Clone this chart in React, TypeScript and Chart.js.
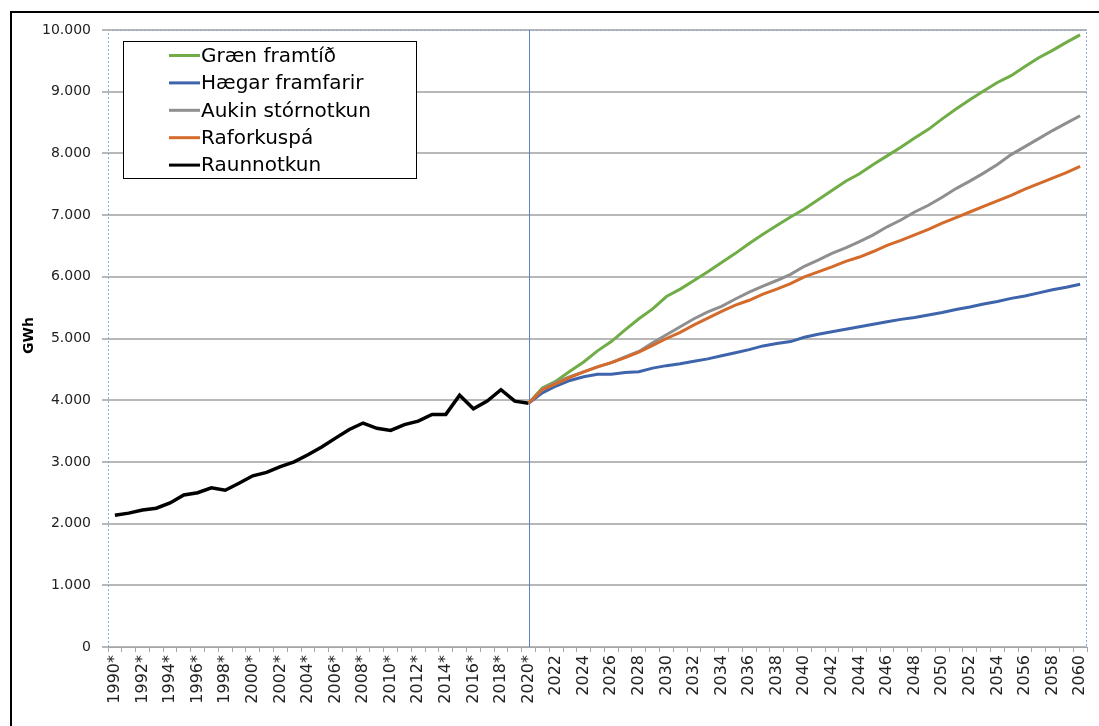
import React, { useEffect, useRef } from "react";
import { Chart, registerables } from "chart.js";

Chart.register(...registerables);

// Categories (years); * marks historical years
const categories: string[] = [
  "1990*", "1991*", "1992*", "1993*", "1994*", "1995*", "1996*", "1997*", "1998*", "1999*",
  "2000*", "2001*", "2002*", "2003*", "2004*", "2005*", "2006*", "2007*", "2008*", "2009*",
  "2010*", "2011*", "2012*", "2013*", "2014*", "2015*", "2016*", "2017*", "2018*", "2019*",
  "2020*", "2021", "2022", "2023", "2024", "2025", "2026", "2027", "2028", "2029",
  "2030", "2031", "2032", "2033", "2034", "2035", "2036", "2037", "2038", "2039",
  "2040", "2041", "2042", "2043", "2044", "2045", "2046", "2047", "2048", "2049",
  "2050", "2051", "2052", "2053", "2054", "2055", "2056", "2057", "2058", "2059", "2060",
];

// Raunnotkun 1990–2020
const raunnotkun: number[] = [
  2135, 2170, 2220, 2250, 2335, 2465, 2500, 2580, 2540, 2655,
  2775, 2830, 2925, 3000, 3115, 3240, 3385, 3525, 3630, 3545,
  3510, 3605, 3660, 3770, 3770, 4080, 3860, 3985, 4170, 3985,
  3950,
];

// Scenarios 2020–2060
const graenFramtid: number[] = [
  3950, 4200, 4310, 4470, 4620, 4800, 4950, 5140, 5320, 5480,
  5680, 5800, 5940, 6080, 6230, 6380, 6540, 6690, 6830, 6970,
  7100, 7250, 7400, 7550, 7670, 7820, 7960, 8100, 8250, 8390,
  8560, 8720, 8870, 9010, 9150, 9260, 9410, 9550, 9670, 9800,
  9920,
];
const haegarFramfarir: number[] = [
  3950, 4120, 4230, 4320, 4380, 4420, 4420, 4450, 4460, 4520,
  4560, 4590, 4630, 4670, 4720, 4770, 4820, 4880, 4920, 4950,
  5020, 5070, 5110, 5150, 5190, 5230, 5270, 5310, 5340, 5380,
  5420, 5470, 5510, 5560, 5600, 5650, 5690, 5740, 5790, 5830,
  5880,
];
const aukinStornotkun: number[] = [
  3950, 4180, 4290, 4380, 4460, 4540, 4610, 4700, 4790, 4930,
  5060, 5190, 5320, 5430, 5520, 5640, 5750, 5850, 5940, 6040,
  6170, 6270, 6380, 6470, 6570, 6680, 6810, 6920, 7050, 7160,
  7290, 7430, 7550, 7680, 7820, 7980, 8110, 8240, 8370, 8490,
  8610,
];
const raforkuspa: number[] = [
  3950, 4170, 4270, 4370, 4460, 4540, 4610, 4690, 4780, 4890,
  5000, 5100, 5220, 5330, 5440, 5540, 5620, 5720, 5800, 5890,
  6000, 6080, 6160, 6250, 6320, 6410, 6510, 6590, 6680, 6770,
  6870, 6960, 7050, 7140, 7230, 7320, 7420, 7510, 7600, 7690,
  7790,
];

const seriesNames = ["Græn framtíð", "Hægar framfarir", "Aukin stórnotkun", "Raforkuspá", "Raunnotkun"];
const seriesColors = ["#70AD47", "#3E64AB", "#8F8F8F", "#D46B2A", "#000000"];
const yTicks = [0, 1000, 2000, 3000, 4000, 5000, 6000, 7000, 8000, 9000, 10000];
const yTitle = "GWh";
const markerLabel = "2020*";

const FONT = "'DejaVu Sans', Verdana, sans-serif";

const fmt = (v: number) => String(v).replace(/\B(?=(\d{3})+(?!\d))/g, ".");

const startIdx = categories.indexOf("2020*");
const pad = (arr: number[]) => [...new Array(startIdx).fill(null), ...arr];
const padEnd = (arr: number[]) => [...arr, ...new Array(categories.length - arr.length).fill(null)];

const decorPlugin = {
  id: "decor",
  beforeDatasetsDraw(chart: any) {
    const { ctx, chartArea: a, scales } = chart;
    ctx.save();
    ctx.strokeStyle = "#8EA9DB";
    ctx.lineWidth = 1;
    ctx.setLineDash([2, 2]);
    ctx.beginPath();
    ctx.moveTo(a.left + 0.5, a.bottom);
    ctx.lineTo(a.left + 0.5, a.top + 0.5);
    ctx.lineTo(a.right - 0.5, a.top + 0.5);
    ctx.lineTo(a.right - 0.5, a.bottom);
    ctx.stroke();
    ctx.setLineDash([]);
    const mi = categories.indexOf(markerLabel);
    const x = Math.round(scales.x.getPixelForValue(mi)) + 0.5;
    ctx.strokeStyle = "#5B80CC";
    ctx.beginPath();
    ctx.moveTo(x, a.top);
    ctx.lineTo(x, a.bottom);
    ctx.stroke();
    ctx.restore();
  },
  afterDraw(chart: any) {
    const { ctx, chartArea: a } = chart;
    ctx.save();
    // y title
    ctx.translate(29, (a.top + a.bottom) / 2 - 3);
    ctx.rotate(-Math.PI / 2);
    ctx.font = `bold 14px ${FONT}`;
    ctx.fillStyle = "#000";
    ctx.textAlign = "center";
    ctx.textBaseline = "middle";
    ctx.fillText(yTitle, 0, 0);
    ctx.restore();

    // legend
    ctx.save();
    const bx = 123.5, by = 41.5, bw = 293, bh = 137;
    ctx.fillStyle = "#fff";
    ctx.fillRect(bx, by, bw, bh);
    ctx.strokeStyle = "#000";
    ctx.lineWidth = 1;
    ctx.strokeRect(bx, by, bw, bh);
    ctx.font = `20px ${FONT}`;
    ctx.textBaseline = "middle";
    ctx.textAlign = "left";
    chart.data.datasets.forEach((ds: any, i: number) => {
      const y = 55.5 + i * 27.4;
      ctx.strokeStyle = ds.borderColor;
      ctx.lineWidth = 3;
      ctx.beginPath();
      ctx.moveTo(169, y);
      ctx.lineTo(200, y);
      ctx.stroke();
      ctx.fillStyle = "#000";
      ctx.fillText(ds.label, 201, y + 1);
    });
    ctx.restore();
  },
};

export default function App() {
  const ref = useRef<HTMLCanvasElement | null>(null);

  useEffect(() => {
    if (!ref.current) return;
    const dataArrays = [pad(graenFramtid), pad(haegarFramfarir), pad(aukinStornotkun), pad(raforkuspa), padEnd(raunnotkun)];
    const orders = [3, 2, 1, 0, 0];
    const chart = new Chart(ref.current, {
      type: "line",
      data: {
        labels: categories,
        datasets: dataArrays.map((d, i) => ({
          label: seriesNames[i],
          data: d,
          borderColor: seriesColors[i],
          backgroundColor: seriesColors[i],
          borderWidth: i === 4 ? 3.5 : 3,
          pointRadius: 0,
          tension: 0,
          spanGaps: false,
          order: orders[i],
        })),
      },
      options: {
        animation: false,
        responsive: false,
        events: [],
        layout: { padding: { left: 0, top: 30, right: 12, bottom: 9 } },
        plugins: { legend: { display: false }, tooltip: { enabled: false }, title: { display: false } },
        scales: {
          x: {
            type: "category",
            offset: true,
            afterFit: (s: any) => { s.height = 70; s.paddingLeft = 0; s.paddingRight = 0; },
            grid: { display: true, offset: true, drawOnChartArea: false, drawTicks: true, tickLength: 5, color: "#A6A6A6" },
            border: { display: true, color: "#A6A6A6", width: 1 },
            ticks: {
              autoSkip: false,
              maxRotation: 90,
              minRotation: 90,
              padding: 3,
              color: "#222",
              font: { family: FONT, size: 16 },
              callback: (_v: any, idx: number) => (idx % 2 === 0 ? categories[idx] : ""),
            },
          },
          y: {
            min: 0,
            max: 10000,
            afterFit: (s: any) => { s.width = 108; s.paddingTop = 0; s.paddingBottom = 0; },
            afterBuildTicks: (s: any) => { s.ticks = yTicks.map((v) => ({ value: v })); },
            grid: { color: "#B8B8B8", lineWidth: 2, tickLength: 6, drawTicks: true },
            border: { display: false },
            ticks: {
              padding: 11,
              color: "#222",
              font: { family: FONT, size: 14 },
              callback: (v: any) => fmt(Number(v)),
            },
          },
        },
      },
      plugins: [decorPlugin],
    });
    return () => chart.destroy();
  }, []);

  return (
    <div style={{ position: "fixed", left: 0, top: 0, width: 1099, height: 726, overflow: "hidden", background: "#fff" }}>
      <div style={{ position: "absolute", left: 10, top: 11, width: 1200, height: 900, borderLeft: "2px solid #000", borderTop: "2px solid #000" }} />
      <canvas ref={ref} width={1099} height={726} style={{ position: "absolute", left: 0, top: 0, width: 1099, height: 726 }} />
    </div>
  );
}
